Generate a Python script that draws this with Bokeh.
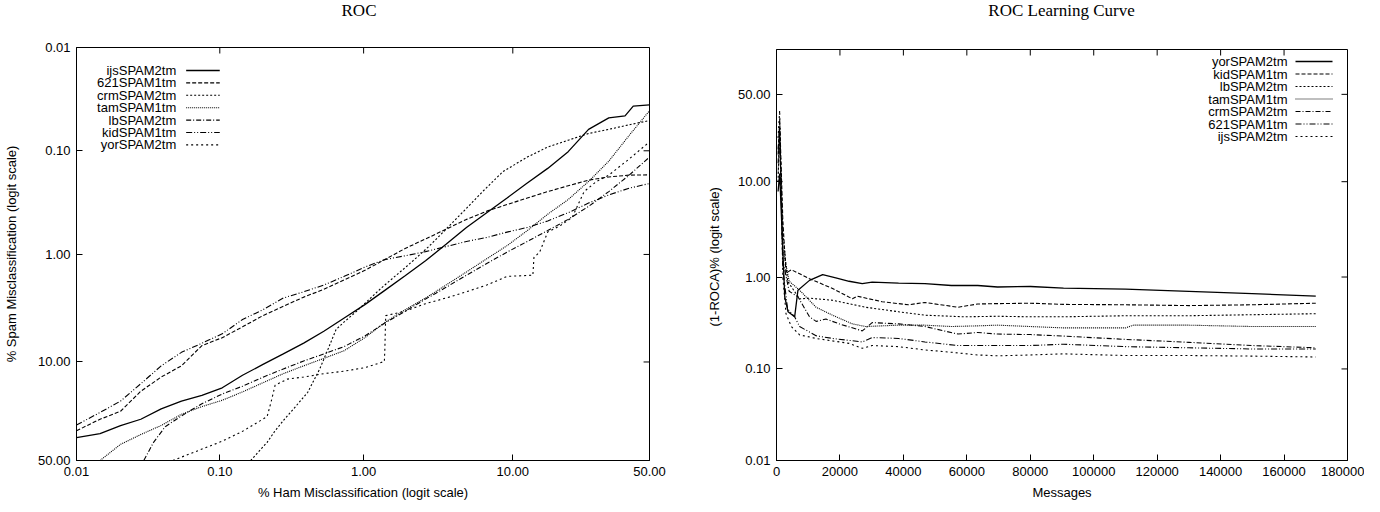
import numpy as np
from bokeh.plotting import figure
from bokeh.layouts import row, column
from bokeh.models import (Range1d, FixedTicker, LinearAxis, Label, Arrow, BasicTickFormatter,
                          Div)
from bokeh.embed import file_html
from bokeh.resources import INLINE

# ---------------- data ----------------
PCT_TICKS = [0.01, 0.1, 1.0, 10.0, 50.0]
PCT_TICK_LABELS = ["0.01", "0.10", "1.00", "10.00", "50.00"]
MSG_TICKS = [0, 20000, 40000, 60000, 80000, 100000, 120000, 140000, 160000, 180000]

G = [0.010, 0.0146, 0.0203, 0.0281, 0.039, 0.054, 0.075, 0.104, 0.144, 0.200, 0.277,
     0.384, 0.53, 0.734, 1.02, 1.40, 1.93, 2.66, 3.66, 5.01, 6.81, 9.2, 12.3, 16.3,
     21.3, 27.3, 34.2, 41.9, 50]

# ROC: % ham misclassification (x) vs % spam misclassification (y)
ijs_ham = G[:27] + [40.3, 43.5, 50]
ijs_spam = [37.5, 35.5, 31.5, 28.5, 24.0, 21.0, 19.0, 16.5, 13.0, 10.5, 8.5, 6.8, 5.3, 4.0,
            3.0, 2.2, 1.6, 1.15, 0.8, 0.55, 0.397, 0.286, 0.205, 0.148, 0.102, 0.062,
            0.048, 0.046, 0.0369, 0.036]
s621_ham = G
s621_spam = [34.0, 28.5, 25.0, 17.6, 13.46, 10.8, 7.16, 6.07, 4.83, 3.8, 3.11, 2.55, 2.15,
             1.75, 1.42, 1.12, 0.876, 0.71, 0.572, 0.46, 0.383, 0.331, 0.286, 0.248, 0.218,
             0.192, 0.179, 0.172, 0.171]
crm_ham = [0.164, 0.2138, 0.243, 0.286, 0.337, 0.409, 0.497, 0.567, 0.645, 0.734, 0.894,
           1.085, 1.32, 1.60, 1.93, 2.35, 2.84, 3.66, 5.01, 6.40, 8.66, 12.3, 16.3, 21.3,
           27.3, 34.2, 41.9, 50]
crm_spam = [50, 40.0, 34.0, 28.0, 23.1, 18.0, 11.46, 7.7, 5.1, 4.35, 3.46, 2.7, 2.1, 1.67,
            1.34, 1.05, 0.823, 0.572, 0.36, 0.248, 0.159, 0.115, 0.092, 0.079, 0.068, 0.062,
            0.056, 0.051]
tam_ham = G[1:]
tam_spam = [50, 41.1, 35.9, 31.4, 26.3, 23.1, 20.7, 17.8, 15.0, 12.6, 10.8, 9.3, 7.95, 6.07,
            4.4, 3.35, 2.6, 1.96, 1.47, 1.10, 0.823, 0.59, 0.41, 0.296, 0.198, 0.126, 0.071,
            0.041]
lb_ham = [0.0295, 0.0345, 0.0416] + G[5:]
lb_spam = [50, 40.0, 32.0, 27.0, 22.0, 18.5, 16.0, 13.5, 11.5, 9.8, 8.5, 7.3, 5.86, 4.46,
           3.46, 2.66, 2.06, 1.58, 1.22, 0.95, 0.75, 0.59, 0.46, 0.345, 0.248, 0.172, 0.115]
kid_ham = G
kid_spam = [31.2, 25.5, 21.0, 15.3, 10.8, 8.23, 6.82, 5.6, 4.13, 3.35, 2.6, 2.27, 1.96, 1.62,
            1.32, 1.12, 1.03, 0.94, 0.84, 0.75, 0.686, 0.61, 0.55, 0.476, 0.397, 0.32, 0.267,
            0.23, 0.207]
yor_ham = [0.047, 0.104, 0.144, 0.2138, 0.228, 0.243, 0.296, 0.384, 0.53, 0.734, 1.02, 1.39,
           1.40, 1.42, 1.93, 2.66, 3.66, 5.01, 6.81, 9.2, 13.3, 13.5, 14.6, 16.3, 19.2, 22.4,
           25.9, 29.9, 34.2, 41.9, 50]
yor_spam = [50, 39.4, 34.3, 27.3, 21.2, 15.7, 14.0, 13.46, 12.6, 12.0, 11.2, 9.9, 7.95, 3.8,
            3.46, 2.94, 2.6, 2.27, 1.96, 1.62, 1.58, 1.07, 0.95, 0.61, 0.53, 0.44, 0.248,
            0.198, 0.172, 0.12, 0.082]

ROC_NAMES = ["ijsSPAM2tm", "621SPAM1tm", "crmSPAM2tm", "tamSPAM1tm", "lbSPAM2tm",
             "kidSPAM1tm", "yorSPAM2tm"]
ROC_DATA = [(ijs_ham, ijs_spam), (s621_ham, s621_spam), (crm_ham, crm_spam),
            (tam_ham, tam_spam), (lb_ham, lb_spam), (kid_ham, kid_spam), (yor_ham, yor_spam)]

# Learning curve: messages (x) vs (1-ROCA)% (y)
yor_msg = [500, 1000, 2600, 3640, 5720, 6760, 10400, 14560, 18700, 22880, 27040, 30160, 38480,
           46800, 55120, 63440, 69680, 80080, 90480, 110000, 130000, 150000, 170000]
yor_roca = [8, 12, 0.61, 0.42, 0.37, 0.72, 0.92, 1.06, 0.98, 0.90, 0.85, 0.88, 0.86, 0.85,
            0.81, 0.81, 0.78, 0.79, 0.76, 0.74, 0.70, 0.66, 0.62]
kid_msg = [500, 1000, 2000, 3000, 4680, 10400, 17680, 23920, 25480, 33280, 41600, 46800,
           57200, 63440, 69680, 80080, 90480, 110000, 130000, 150000, 170000]
kid_roca = [18, 35, 4, 1.1, 1.2, 0.96, 0.75, 0.58, 0.62, 0.54, 0.50, 0.53, 0.47, 0.51, 0.515,
            0.52, 0.505, 0.50, 0.49, 0.50, 0.52]
lb_msg = [500, 1000, 2000, 3500, 7280, 10400, 17680, 28080, 38480, 46800, 59280, 69680,
          80080, 90480, 110000, 130000, 150000, 170000]
lb_roca = [10, 30, 3, 0.9, 0.58, 0.59, 0.56, 0.47, 0.42, 0.385, 0.37, 0.375, 0.37, 0.37,
           0.38, 0.38, 0.39, 0.40]
tam_msg = [500, 1000, 2000, 4000, 7280, 12480, 17680, 23920, 28080, 38480, 46800, 55120,
           63440, 69680, 80080, 90480, 110000, 112500, 130000, 150000, 170000]
tam_roca = [12, 25, 2, 0.9, 0.72, 0.47, 0.385, 0.31, 0.29, 0.30, 0.30, 0.29, 0.295, 0.30,
            0.29, 0.28, 0.28, 0.30, 0.30, 0.29, 0.29]
crm_msg = [500, 1000, 2000, 4000, 6760, 10400, 12480, 15600, 19760, 27040, 30160, 38480,
           46800, 57200, 63440, 69680, 80080, 90480, 110000, 130000, 150000, 170000]
crm_roca = [15, 28, 1.5, 0.7, 0.61, 0.37, 0.33, 0.35, 0.31, 0.26, 0.32, 0.31, 0.29, 0.24,
            0.25, 0.24, 0.237, 0.228, 0.21, 0.195, 0.18, 0.17]
s621_msg = [500, 1000, 2000, 3500, 5720, 7280, 12480, 17680, 27040, 30160, 38480, 46800,
            57200, 69680, 80080, 90480, 110000, 130000, 150000, 170000]
s621_roca = [20, 30, 1.2, 0.45, 0.37, 0.29, 0.23, 0.215, 0.197, 0.22, 0.215, 0.197, 0.18,
             0.18, 0.18, 0.186, 0.175, 0.17, 0.165, 0.165]
ijs_msg = [500, 1000, 2000, 3000, 4680, 7280, 12480, 22880, 27040, 30160, 38480, 46800,
           55120, 63440, 69680, 80080, 90480, 110000, 130000, 150000, 170000]
ijs_roca = [25, 40, 1.0, 0.4, 0.29, 0.235, 0.215, 0.19, 0.168, 0.18, 0.175, 0.161, 0.152,
            0.142, 0.139, 0.142, 0.146, 0.14, 0.14, 0.138, 0.135]

LC_NAMES = ["yorSPAM2tm", "kidSPAM1tm", "lbSPAM2tm", "tamSPAM1tm", "crmSPAM2tm",
            "621SPAM1tm", "ijsSPAM2tm"]
LC_DATA = [(yor_msg, yor_roca), (kid_msg, kid_roca), (lb_msg, lb_roca), (tam_msg, tam_roca),
           (crm_msg, crm_roca), (s621_msg, s621_roca), (ijs_msg, ijs_roca)]

# ---------------- styling ----------------
SANS = "Liberation Sans"
SERIF = "Liberation Serif"
STYLES = [("solid", 1.3), ("4 2", 1.1), ("2 2", 1.1), ("1 1", 1.1),
          ("5 2 1 2", 1.1), ("6 2 1 2 1 2", 1.1), ("2 3", 1.1)]
TICK_PX = 6
TITLE_H = 22


def logit10(pct):
    p = np.asarray(pct, dtype=float) / 100.0
    return np.log10(p / (1.0 - p))


PCT_POS = [float(v) for v in logit10(PCT_TICKS)]
PCT_OVR = {pos: lab for pos, lab in zip(PCT_POS, PCT_TICK_LABELS)}

COMMON = dict(major_tick_in=TICK_PX, major_tick_out=0, minor_tick_line_color=None,
              axis_line_color="black", major_tick_line_color="black",
              major_label_text_font=SANS, major_label_text_font_size="13px",
              major_label_text_color="black", axis_label_text_font=SANS,
              axis_label_text_font_size="13px", axis_label_text_font_style="normal",
              axis_label_text_color="black")


class Frame:
    """pixel <-> data helper for a figure's plotting frame"""
    def __init__(self, x0, x1, ytop, ybot, wpx, hpx):
        self.x0, self.x1, self.ytop, self.ybot = x0, x1, ytop, ybot
        self.w, self.h = wpx, hpx

    def x(self, dx):
        return self.x0 + dx / self.w * (self.x1 - self.x0)

    def y(self, dy):
        return self.ytop + dy / self.h * (self.ybot - self.ytop)


def build(width, bl, br, bt, bb, fr, xr, yr, xticks, yticks, xlabel, ylabel,
          xover, yover, xfmt, ylab_standoff, title, names, data, leg):
    p = figure(width=width, height=504 - TITLE_H, x_range=xr, y_range=yr,
               x_axis_type=None, y_axis_type=None, toolbar_location=None,
               output_backend="svg", min_border_left=bl, min_border_right=br,
               min_border_top=bt, min_border_bottom=bb)
    p.outline_line_color = "black"
    p.outline_line_width = 1
    p.outline_line_alpha = 1

    b = LinearAxis(ticker=FixedTicker(ticks=xticks), axis_label=xlabel,
                   major_label_standoff=6, axis_label_standoff=6, **COMMON)
    if xover:
        b.major_label_overrides = xover
    if xfmt is not None:
        b.formatter = xfmt
    l = LinearAxis(ticker=FixedTicker(ticks=yticks), axis_label=ylabel,
                   major_label_standoff=6, axis_label_standoff=ylab_standoff, **COMMON)
    l.major_label_overrides = yover
    p.add_layout(b, "below")
    p.add_layout(l, "left")

    # mirrored inward ticks on top and right edges
    for t in xticks:
        p.add_layout(Arrow(end=None, x_start=t, y_start=fr.y(0), x_end=t,
                           y_end=fr.y(TICK_PX), line_color="black", line_width=1))
    for t in yticks:
        p.add_layout(Arrow(end=None, x_start=fr.x(fr.w), y_start=t,
                           x_end=fr.x(fr.w - TICK_PX), y_end=t,
                           line_color="black", line_width=1))

    for i, (xs, ys) in enumerate(data):
        dash, w = STYLES[i]
        p.line(xs, ys, line_color="black", line_width=w, line_dash=dash)

    # gnuplot-style key: right-aligned text, sample to its right
    tx, s0, s1, row0, step = leg
    for i, name in enumerate(names):
        dash, w = STYLES[i]
        yy = fr.y(row0 + step * i)
        p.add_layout(Label(x=fr.x(tx), y=yy, text=name, text_align="right",
                           text_baseline="middle", text_font=SANS,
                           text_font_size="13px", text_color="black"))
        p.add_layout(Arrow(end=None, x_start=fr.x(s0), y_start=yy, x_end=fr.x(s1),
                           y_end=yy, line_color="black", line_width=w, line_dash=dash))

    # title centred over the plotting frame
    shift = bl + fr.w / 2 - width / 2
    head = Div(text=f'<span style="position:relative;left:{shift:.1f}px">{title}</span>',
               width=width, height=TITLE_H,
               styles={"font-family": SERIF, "font-size": "17px", "line-height": f"{TITLE_H}px",
                       "text-align": "center", "color": "black", "margin": "0",
                       "padding": "0"})
    return column(head, p, spacing=0)


# ---------------- left: ROC ----------------
LO = float(logit10(0.01))
FR_L = Frame(LO, 0.0, LO, 0.0, 580.0, 413.0)
left = build(700, 69, 51, 47 - TITLE_H, 44, FR_L, Range1d(LO, 0.0), Range1d(0.0, LO),
             PCT_POS, PCT_POS, "% Ham Misclassification (logit scale)",
             "% Spam Misclassification (logit scale)", PCT_OVR, PCT_OVR, None, 16, "ROC",
             ROC_NAMES, [(logit10(h), logit10(s)) for h, s in ROC_DATA],
             (101, 111, 145, 23, 12.4))

# ---------------- right: learning curve ----------------
YTOP = 0.49
FR_R = Frame(0.0, 180000.0, YTOP, LO, 571.0, 411.0)
right = build(664, 76, 17, 49 - TITLE_H, 44, FR_R, Range1d(0, 180000), Range1d(LO, YTOP),
              MSG_TICKS, PCT_POS, "Messages", "(1-ROCA)%  (logit scale)",
              None, PCT_OVR, BasicTickFormatter(use_scientific=False), 13,
              "ROC Learning Curve", LC_NAMES,
              [(m, logit10(r)) for m, r in LC_DATA], (511, 519, 556, 12, 12.5))

layout = row(left, right, spacing=0)
open("out.html", "w").write(file_html(layout, INLINE))
